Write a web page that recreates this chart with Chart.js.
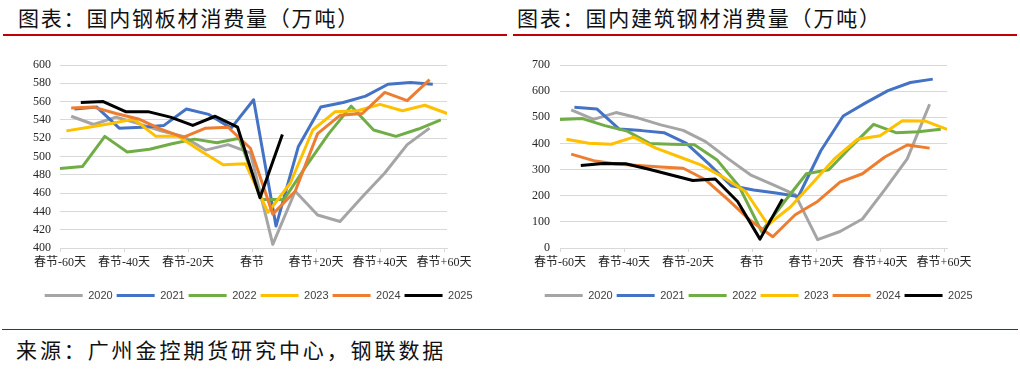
<!DOCTYPE html>
<html lang="zh-CN">
<head>
<meta charset="utf-8">
<title>国内钢板材 / 建筑钢材消费量</title>
<script src="https://cdn.jsdelivr.net/npm/chart.js@4.4.1/dist/chart.umd.min.js"></script>
<style>
    html, body { margin: 0; padding: 0; background: #fff; }
    #page {
        position: relative;
        width: 1020px;
        height: 369px;
        overflow: hidden;
        background: #fff;
        font-family: "Noto Sans CJK SC", sans-serif;
    }
    .title {
        position: absolute;
        top: 4px;
        font-size: 21px;
        line-height: 26px;
        letter-spacing: 1.8px;
        color: #111;
        white-space: nowrap;
    }
    .rule { position: absolute; height: 1.5px; background: #c00000; }
    .chart { position: absolute; top: 40px; }
    #source {
        position: absolute;
        left: 16px;
        top: 336px;
        font-size: 21px;
        line-height: 26px;
        letter-spacing: 2.9px;
        color: #111;
        white-space: nowrap;
    }
</style>
</head>
<body>
<div id="page">
    <div class="title" style="left:18px">图表：国内钢板材消费量（万吨）</div>
    <div class="title" style="left:517px">图表：国内建筑钢材消费量（万吨）</div>
    <div class="rule" style="left:3px; width:504px; top:34px"></div>
    <div class="rule" style="left:513px; width:504px; top:34px"></div>

    <canvas id="plateChart" class="chart" style="left:0px" width="500" height="271"></canvas>
    <canvas id="buildChart" class="chart" style="left:500px" width="520" height="271"></canvas>

    <div class="rule" style="left:2px; width:1016px; top:328.5px"></div>
    <div id="source">来源：广州金控期货研究中心，钢联数据</div>
</div>

<script>
/* =======================
   DATI
======================= */

// asse x: giorni rispetto al capodanno cinese
const xTicks = [-60, -40, -20, 0, 20, 40, 60];
const xTickLabels = ["春节-60天", "春节-40天", "春节-20天", "春节", "春节+20天", "春节+40天", "春节+60天"];

const plateTicks = [400, 420, 440, 460, 480, 500, 520, 540, 560, 580, 600];
const buildTicks = [0, 100, 200, 300, 400, 500, 600, 700];

const years = ["2020", "2021", "2022", "2023", "2024", "2025"];

// giorni di ogni osservazione settimanale, per anno
const days2020 = [-56.5, -49.5, -42.5, -35.5, -28.5, -21.5, -14.5, -7.5, -0.5, 6.5, 13.5, 20.5, 27.5, 34.5, 41.5, 48.5, 55.5];
const days2021 = [-55.5, -48.5, -41.5, -34.5, -27.5, -20.5, -13.5, -6.5, 0.5, 7.5, 14.5, 21.5, 28.5, 35.5, 42.5, 49.5, 56.5];
const days2022 = [-60, -53, -46, -39, -32, -25, -18, -11, -4, 3, 10, 17, 24, 31, 38, 45, 52, 59];
const days2023 = [-58, -51, -44, -37, -30, -23, -16, -9, -2, 5, 12, 19, 26, 33, 40, 47, 54, 61];
const days2024 = [-56.5, -49.5, -42.5, -35.5, -28.5, -21.5, -14.5, -7.5, -0.5, 6.5, 13.5, 20.5, 27.5, 34.5, 41.5, 48.5, 55.5];
const days2025 = [-53.5, -46.5, -39.5, -32.5, -25.5, -18.5, -11.5, -4.5, 2.5, 9.5];

// 国内钢板材消费量
const plate2020 = [544, 535, 543, 536, 528, 522, 507, 513, 504, 404, 462, 436, 429, 456, 482, 513, 531];
const plate2021 = [552, 554, 531, 532, 534, 552, 546, 531, 562, 424, 511, 554, 559, 566, 579, 581, 579];
const plate2022 = [487, 489, 522, 505, 508, 514, 519, 515, 520, 453, 453, 490, 525, 555, 529, 522, 530, 540];
const plate2023 = [528, 532, 536, 541, 522, 522, 506, 491, 492, 439, 471, 529, 549, 550, 557, 550, 556, 547];
const plate2024 = [553, 554, 547, 541, 530, 521, 531, 532, 509, 437, 462, 525, 545, 547, 570, 561, 584];
const plate2025 = [559, 560, 549, 549, 543, 534, 544, 532, 455, 524];

// 国内建筑钢材消费量
const build2020 = [528, 492, 518, 497, 471, 450, 407, 342, 280, 242, 204, 32, 63, 111, 223, 341, 550];
const build2021 = [538, 532, 455, 449, 441, 400, 322, 238, 222, 210, 197, 372, 505, 555, 602, 633, 646];
const build2022 = [492, 495, 468, 447, 400, 397, 395, 338, 235, 63, 175, 284, 299, 388, 473, 441, 445, 454];
const build2023 = [416, 401, 397, 424, 382, 350, 318, 271, 216, 89, 157, 250, 344, 416, 429, 487, 486, 454];
const build2024 = [359, 334, 321, 316, 310, 305, 261, 185, 105, 43, 127, 178, 252, 284, 348, 394, 382];
const build2025 = [316, 323, 322, 302, 280, 258, 264, 178, 34, 187];

/* =======================
   STILE
======================= */

const yearColors = ["#A5A5A5", "#4472C4", "#70AD47", "#FFC000", "#ED7D31", "#000000"];
const dayLists = [days2020, days2021, days2022, days2023, days2024, days2025];

const tickFont = { family: "'Liberation Serif', 'Noto Sans CJK SC', serif", size: 12 };
const legendFont = { family: "'Liberation Sans', Arial, sans-serif", size: 11 };

// sposta la legenda come nell'originale (centrata un po' piu' a destra)
const legendShift = {
    id: "legendShift",
    afterLayout(chart) {
        chart.legend.left += 35;
        chart.legend.right += 35;
    }
};

function makeDatasets(seriesList) {
    return years.map((year, i) => ({
        label: year,
        data: dayLists[i].map((d, k) => ({ x: d, y: seriesList[i][k] })),
        borderColor: yearColors[i],
        backgroundColor: yearColors[i],
        borderWidth: 3,
        borderJoinStyle: "round",
        pointRadius: 0,
        tension: 0,
        order: years.length - i   // 2025 disegnato sopra
    }));
}

function drawChart(canvasId, seriesList, yTicks, yPadding, rightPad) {
    new Chart(document.getElementById(canvasId), {
        type: "line",
        data: { datasets: makeDatasets(seriesList) },
        options: {
            responsive: false,
            animation: false,
            layout: { padding: { top: 25, right: rightPad, bottom: 0, left: 0 } },
            scales: {
                x: {
                    type: "linear",
                    min: -60,
                    max: 61,
                    afterBuildTicks: s => { s.ticks = xTicks.map(v => ({ value: v })); },
                    afterFit: s => { s.height = 38; },
                    grid: { drawOnChartArea: false, drawTicks: true, tickLength: 4, color: "#D9D9D9" },
                    border: { display: true, color: "#D9D9D9" },
                    ticks: {
                        callback: (v, i) => xTickLabels[i],
                        autoSkip: false,
                        maxRotation: 0,
                        padding: 4,
                        color: "#262626",
                        font: tickFont
                    }
                },
                y: {
                    min: yTicks[0],
                    max: yTicks[yTicks.length - 1],
                    afterBuildTicks: s => { s.ticks = yTicks.map(v => ({ value: v })); },
                    afterFit: s => { s.width = 60; },
                    grid: { color: "#D9D9D9", drawTicks: false },
                    border: { display: false },
                    ticks: { padding: yPadding, color: "#262626", font: tickFont }
                }
            },
            plugins: {
                legend: {
                    position: "bottom",
                    labels: {
                        boxWidth: 38,
                        boxHeight: 3,
                        padding: 4,
                        color: "#404040",
                        font: legendFont,
                        sort: (a, b) => a.datasetIndex - b.datasetIndex,
                        generateLabels: chart =>
                            Chart.defaults.plugins.legend.labels.generateLabels(chart)
                                .map(item => Object.assign(item, { lineWidth: 0, fillStyle: item.strokeStyle }))
                    }
                },
                tooltip: { enabled: false }
            }
        },
        plugins: [legendShift]
    });
}

/* =======================
   AVVIO
======================= */

drawChart("plateChart", [plate2020, plate2021, plate2022, plate2023, plate2024, plate2025], plateTicks, 9, 52.8);
drawChart("buildChart", [build2020, build2021, build2022, build2023, build2024, build2025], buildTicks, 10, 72.8);
</script>
</body>
</html>
